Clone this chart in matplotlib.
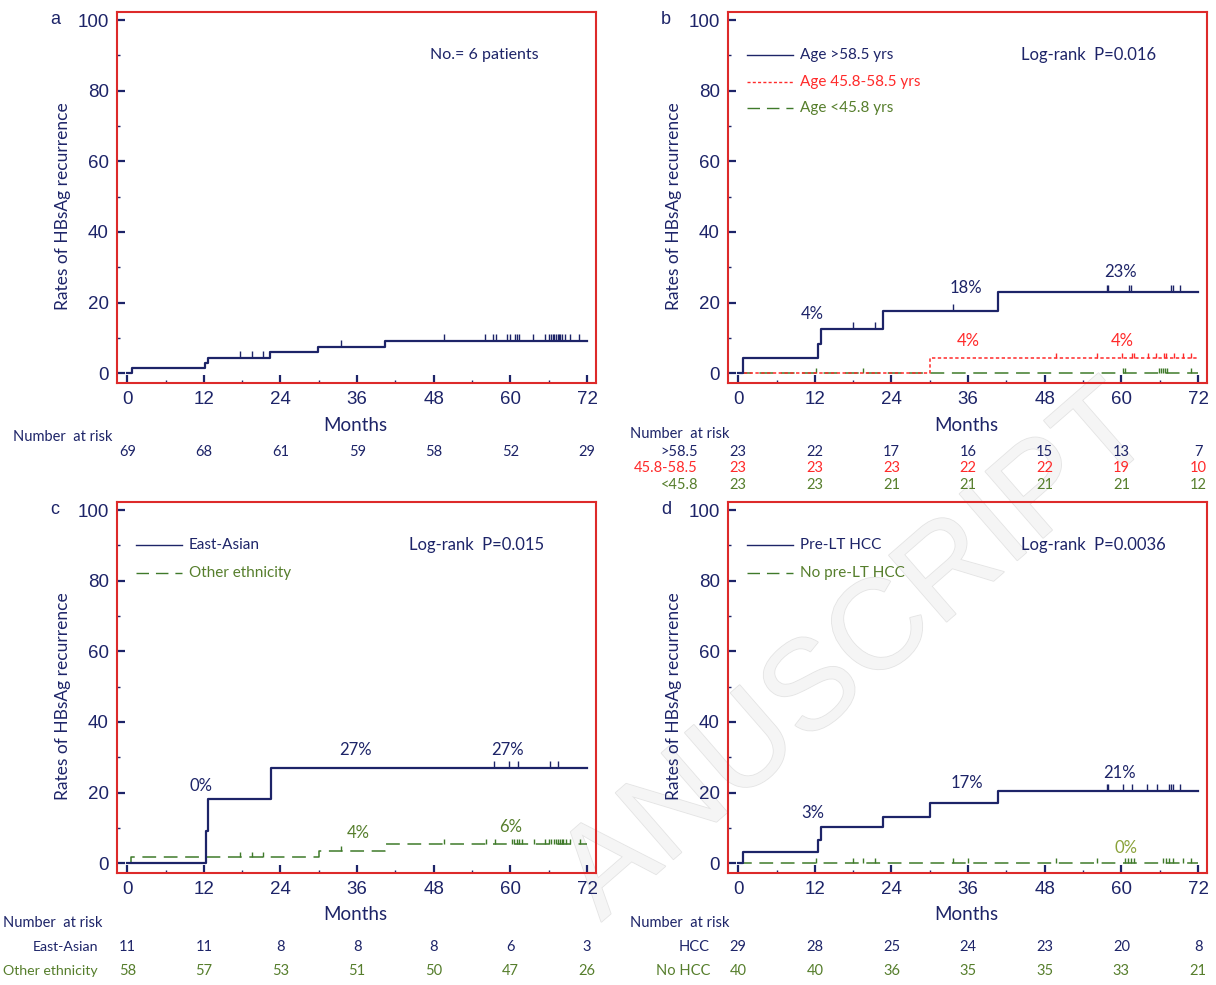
import numpy as np
import matplotlib
matplotlib.use("Agg")
import matplotlib.pyplot as plt
import matplotlib.patheffects as pe
from matplotlib.transforms import blended_transform_factory

# colours
navy = "#1d2468"
red = "#ff2a2a"
frame_red = "#dd2a2a"
green = "#3f7a2a"
green_txt = "#567e2c"

TXT = ["Lato", "DejaVu Sans"]
NUM = ["Liberation Sans", "DejaVu Sans"]

months = [0, 12, 24, 36, 48, 60, 72]

# panel a: all patients
a_times = [0, 0.8, 12.2, 12.7, 22.4, 29.8, 40.4]
a_vals = [0, 1.4, 2.9, 4.4, 5.9, 7.5, 9.2]
a_cens = [17.7, 19.5, 21.3, 33.5, 49.6, 56.0, 57.3, 57.7, 59.5, 59.9, 60.7, 61.1,
          61.4, 63.6, 65.4, 66.1, 66.3, 66.6, 66.8, 67.1, 67.4, 67.6, 67.8, 68.0,
          68.5, 69.3, 70.7]
a_risk = [69, 68, 61, 59, 58, 52, 29]

# panel b: age groups
b_old_times = [0, 0.7, 12.5, 13.0, 22.6, 40.6]
b_old_vals = [0, 4.3, 8.3, 12.6, 17.7, 23.0]
b_old_cens = [17.9, 21.4, 33.7, 57.7, 57.9, 61.2, 61.5, 67.8, 68.1, 69.1]
b_mid_times = [0, 30.0]
b_mid_vals = [0, 4.3]
b_mid_cens = [49.8, 56.2, 60.1, 61.6, 62.0, 64.1, 65.4, 66.6, 67.0, 68.2, 69.6, 70.9]
b_young_times = [0]
b_young_vals = [0]
b_young_cens = [12.2, 19.6, 60.3, 60.5, 65.9, 66.2, 66.5, 66.8, 67.1, 70.9]
b_risk_old = [23, 22, 17, 16, 15, 13, 7]
b_risk_mid = [23, 23, 23, 22, 22, 19, 10]
b_risk_young = [23, 23, 21, 21, 21, 21, 12]

# panel c: ethnicity
c_ea_times = [0, 12.3, 12.6, 22.5]
c_ea_vals = [0, 9.1, 18.2, 27.0]
c_ea_cens = [57.4, 59.8, 61.2, 66.2, 67.5]
c_oth_times = [0, 0.6, 30.1, 40.4]
c_oth_vals = [0, 1.6, 3.4, 5.3]
c_oth_cens = [17.7, 19.5, 21.2, 33.5, 49.6, 56.2, 57.6, 60.3, 60.6, 61.0, 61.4, 61.8,
              63.7, 65.4, 66.0, 66.4, 66.8, 67.1, 67.4, 67.7, 68.0, 68.3, 68.7,
              69.4, 70.9]
c_risk_ea = [11, 11, 8, 8, 8, 6, 3]
c_risk_oth = [58, 57, 53, 51, 50, 47, 26]

# panel d: pre-LT HCC
d_hcc_times = [0, 0.8, 12.5, 13.0, 22.6, 30.0, 40.6]
d_hcc_vals = [0, 3.1, 6.6, 10.2, 13.2, 16.9, 20.4]
d_hcc_cens = [57.8, 57.95, 60.2, 61.6, 64.0, 65.6, 67.5, 67.8, 68.1, 69.1]
d_no_times = [0]
d_no_vals = [0]
d_no_cens = [12.2, 18.0, 19.6, 21.4, 33.7, 35.9, 49.8, 56.2, 60.5, 61.0, 61.5, 62.0,
             66.5, 67.0, 67.5, 68.1, 69.6, 70.9]
d_risk_hcc = [29, 28, 25, 24, 23, 20, 8]
d_risk_no = [40, 40, 36, 35, 35, 33, 21]

W, H = 1216, 985
fig = plt.figure(figsize=(W / 100, H / 100), dpi=100)

# faint watermark behind everything
wm = fig.text(858 / W, 1 - 655 / H, "ANUSCRIPT", family=NUM, fontsize=92, color="#f5f5f5",
              rotation=41, ha="center", va="center", zorder=-5)
wm.set_path_effects([pe.withStroke(linewidth=1.2, foreground="#e4e4e4")])


def fx(px):
    return px / W


def fy(py):
    return 1 - py / H


def make_ax(left, top, letter):
    ax = fig.add_axes([fx(left), fy(top + 371), fx(479), 371 / H])
    ax.set_facecolor("none")
    ax.set_xlim(-1.6, 73.4)
    ax.set_ylim(-2.8, 102.3)
    for s in ax.spines.values():
        s.set_color(frame_red)
        s.set_linewidth(1.5)
    ax.set_xticks(months)
    ax.set_xticks(range(6, 72, 12), minor=True)
    ax.set_yticks(range(0, 101, 20))
    ax.set_yticks(range(10, 100, 20), minor=True)
    ax.tick_params(which="major", direction="in", length=6, width=1.6,
                   color=navy, labelcolor=navy, labelsize=13.5, pad=6)
    ax.tick_params(which="minor", direction="in", length=2.5, width=1.0, color=navy)
    for lab in ax.get_xticklabels() + ax.get_yticklabels():
        lab.set_family(NUM)
    fig.text(fx(left - 62), fy(top + 8), letter, family=NUM, fontsize=13,
             color=navy, ha="center", va="center")
    fig.text(fx(left - 54), fy(top + 194), "Rates of HBsAg recurrence", family=TXT,
             fontsize=12.5, color=navy, rotation=90, ha="center", va="center")
    fig.text(fx(left + 238), fy(top + 413), "Months", family=TXT, fontsize=13.5,
             color=navy, ha="center", va="center")
    return ax


def curve(ax, times, vals, cens, color, ls, lw, tick_h=1.9):
    t = list(times) + [72]
    v = list(vals) + [vals[-1]]
    ax.step(t, v, where="post", color=color, linestyle=ls, linewidth=lw)
    cy = [vals[np.searchsorted(times, c, side="right") - 1] for c in cens]
    ax.vlines(cens, cy, np.array(cy) + tick_h, color=color, linewidth=1.0)


def risk_row(ax, ypx, counts, color):
    tr = blended_transform_factory(ax.transData, fig.transFigure)
    for m, n in zip(months, counts):
        ax.text(m, fy(ypx), str(n), transform=tr, family=TXT, fontsize=10.5,
                color=color, ha="center", va="center")


def legend_line(ax, y, color, ls, lw, label, tcolor):
    ax.plot([1.4, 8.5], [y, y], color=color, linestyle=ls, linewidth=lw)
    ax.text(9.6, y, label, family=TXT, fontsize=11, color=tcolor, va="center")


dashed = (0, (9, 5))
dotted = (0, (2.2, 1.6))

# ---- a
ax = make_ax(117, 12, "a")
curve(ax, a_times, a_vals, a_cens, navy, "-", 1.6)
ax.text(47.4, 90, "No.= 6 patients", family=TXT, fontsize=11.5, color=navy, va="center")
fig.text(fx(13), fy(437), "Number  at risk", family=TXT, fontsize=10.5, color=navy, va="center")
risk_row(ax, 452, a_risk, navy)

# ---- b
ax = make_ax(728, 12, "b")
curve(ax, b_young_times, b_young_vals, b_young_cens, green, dashed, 1.1, 1.5)
curve(ax, b_mid_times, b_mid_vals, b_mid_cens, red, dotted, 1.1, 1.5)
curve(ax, b_old_times, b_old_vals, b_old_cens, navy, "-", 1.6)
legend_line(ax, 90, navy, "-", 1.0, "Age >58.5 yrs", navy)
legend_line(ax, 82.5, red, dotted, 1.0, "Age 45.8-58.5 yrs", red)
legend_line(ax, 75, green, dashed, 1.0, "Age <45.8 yrs", green_txt)
ax.text(44.3, 90, "Log-rank  P=0.016", family=TXT, fontsize=12, color=navy, va="center")
for x, y, s, c in [(11.6, 16.7, "4%", navy), (35.7, 24, "18%", navy), (59.9, 28.6, "23%", navy),
                   (36, 9, "4%", red), (60.2, 9, "4%", red)]:
    ax.text(x, y, s, family=TXT, fontsize=12, color=c, ha="center", va="center")
fig.text(fx(630), fy(434), "Number  at risk", family=TXT, fontsize=10.5, color=navy, va="center")
for ypx, lab, cnt, col in [(452, ">58.5", b_risk_old, navy), (468, "45.8-58.5", b_risk_mid, red),
                           (485, "<45.8", b_risk_young, green_txt)]:
    fig.text(fx(698), fy(ypx), lab, family=TXT, fontsize=10.5, color=col, ha="right", va="center")
    risk_row(ax, ypx, cnt, col)

# ---- c
ax = make_ax(117, 502, "c")
curve(ax, c_oth_times, c_oth_vals, c_oth_cens, green, dashed, 1.1, 1.5)
curve(ax, c_ea_times, c_ea_vals, c_ea_cens, navy, "-", 1.6)
legend_line(ax, 90, navy, "-", 1.0, "East-Asian", navy)
legend_line(ax, 82.3, green, dashed, 1.0, "Other ethnicity", green_txt)
ax.text(44.1, 90, "Log-rank  P=0.015", family=TXT, fontsize=12, color=navy, va="center")
for x, y, s, c in [(11.6, 21.8, "0%", navy), (35.7, 32, "27%", navy), (59.6, 32, "27%", navy),
                   (36.2, 8.5, "4%", green_txt), (60.1, 10.2, "6%", green_txt)]:
    ax.text(x, y, s, family=TXT, fontsize=12, color=c, ha="center", va="center")
fig.text(fx(3), fy(923), "Number  at risk", family=TXT, fontsize=10.5, color=navy, va="center")
for ypx, lab, cnt, col in [(947, "East-Asian", c_risk_ea, navy), (971, "Other ethnicity", c_risk_oth, green_txt)]:
    fig.text(fx(98), fy(ypx), lab, family=TXT, fontsize=10.2, color=col, ha="right", va="center")
    risk_row(ax, ypx, cnt, col)

# ---- d
ax = make_ax(728, 502, "d")
curve(ax, d_no_times, d_no_vals, d_no_cens, green, dashed, 1.1, 1.5)
curve(ax, d_hcc_times, d_hcc_vals, d_hcc_cens, navy, "-", 1.6)
legend_line(ax, 90, navy, "-", 1.0, "Pre-LT HCC", navy)
legend_line(ax, 82.3, green, dashed, 1.0, "No pre-LT HCC", green_txt)
ax.text(44.3, 90, "Log-rank  P=0.0036", family=TXT, fontsize=12, color=navy, va="center")
for x, y, s, c in [(11.6, 14.2, "3%", navy), (35.8, 22.7, "17%", navy), (59.7, 25.5, "21%", navy),
                   (60.7, 4.2, "0%", "#8aa23a")]:
    ax.text(x, y, s, family=TXT, fontsize=12, color=c, ha="center", va="center")
fig.text(fx(630), fy(923), "Number  at risk", family=TXT, fontsize=10.5, color=navy, va="center")
for ypx, lab, cnt, col in [(947, "HCC", d_risk_hcc, navy), (971, "No HCC", d_risk_no, green_txt)]:
    fig.text(fx(710), fy(ypx), lab, family=TXT, fontsize=10.5, color=col, ha="right", va="center")
    risk_row(ax, ypx, cnt, col)

fig.savefig("out.png", dpi=100)
